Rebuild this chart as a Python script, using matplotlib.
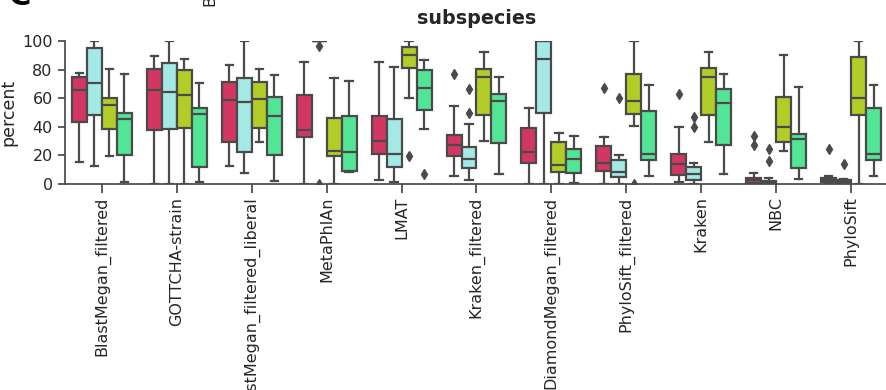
import numpy as np
import matplotlib
matplotlib.use("Agg")
import matplotlib.pyplot as plt

# categories on the x axis
cats = ["BlastMegan_filtered", "GOTTCHA-strain", "BlastMegan_filtered_liberal",
        "MetaPhlAn", "LMAT", "Kraken_filtered", "DiamondMegan_filtered",
        "PhyloSift_filtered", "Kraken", "NBC", "PhyloSift"]

# box stats, one list per hue (percent)
red_med = [65.7, 65.5, 59.0, 37.5, 29.9, 27.0, 22.1, 15.0, 14.0, 2.8, 2.6]
red_q1 = [43.1, 37.5, 29.2, 33.1, 21.2, 19.3, 14.4, 9.3, 6.5, 0.9, 1.4]
red_q3 = [74.8, 80.4, 71.1, 62.5, 47.3, 34.0, 39.2, 26.3, 20.7, 4.4, 4.4]
red_lo = [15.6, 0.0, 12.4, 0.0, 3.0, 5.3, 0.0, 0.0, 1.6, 0.2, 0.2]
red_hi = [77.4, 89.7, 83.2, 85.3, 85.5, 54.8, 52.9, 32.6, 39.6, 7.9, 5.8]
red_out = {5: [77.0], 7: [67.1], 8: [62.7], 9: [33.6, 27.0], 10: [24.5]}

cyan_med = [70.8, 64.1, 57.3, 100, 21.2, 17.8, 87.2, 8.4, 7.2, 0.9, 1.6]
cyan_q1 = [48.3, 38.2, 22.6, 100, 12.1, 11.5, 49.6, 4.9, 3.0, 0.2, 0.0]
cyan_q3 = [95.3, 84.6, 74.1, 100, 45.2, 25.6, 100, 16.5, 11.9, 2.1, 2.8]
cyan_lo = [12.8, 0.0, 7.7, 100, 1.2, 2.5, 0.0, 0.0, 0.2, 0.0, 0.0]
cyan_hi = [100, 100, 100, 100, 81.8, 41.7, 100, 20.5, 14.5, 4.0, 3.3]
cyan_out = {3: [96.7, 0.0], 5: [66.2, 49.9], 7: [59.9], 8: [47.1, 39.6],
            9: [24.2, 16.3], 10: [14.0]}

yel_med = [55.5, 62.0, 59.2, 23.3, 90.2, 75.1, 13.1, 57.8, 75.1, 39.9, 59.8]
yel_q1 = [38.7, 39.4, 39.0, 19.6, 81.1, 48.5, 8.2, 48.7, 48.5, 29.6, 48.5]
yel_q3 = [59.9, 79.5, 71.3, 46.2, 96.0, 80.2, 29.6, 76.9, 81.1, 61.1, 89.0]
yel_lo = [19.6, 0.0, 29.6, 0.0, 59.9, 29.8, 0.0, 40.6, 29.6, 23.1, 0.0]
yel_hi = [80.7, 87.2, 80.7, 74.4, 100, 92.3, 35.7, 100, 92.3, 90.0, 100]
yel_out = {4: [19.6], 7: [0.0]}

grn_med = [45.2, 49.0, 47.8, 22.4, 67.1, 58.0, 17.2, 21.2, 56.4, 31.2, 21.2]
grn_q1 = [20.3, 12.1, 20.1, 9.3, 51.7, 28.9, 7.9, 16.5, 27.3, 11.5, 16.5]
grn_q3 = [49.9, 53.4, 60.8, 47.3, 79.7, 63.2, 24.5, 50.8, 66.4, 35.2, 52.9]
grn_lo = [1.2, 1.6, 2.3, 8.6, 38.5, 7.2, 1.0, 5.6, 6.8, 3.7, 5.3]
grn_hi = [77.2, 70.9, 76.5, 72.3, 86.7, 74.6, 33.6, 69.5, 76.9, 67.6, 68.9]
grn_out = {4: [6.8]}

hues = [
    ("#d33662", red_med, red_q1, red_q3, red_lo, red_hi, red_out),
    ("#a4e9e6", cyan_med, cyan_q1, cyan_q3, cyan_lo, cyan_hi, cyan_out),
    ("#b2cd28", yel_med, yel_q1, yel_q3, yel_lo, yel_hi, yel_out),
    ("#52e596", grn_med, grn_q1, grn_q3, grn_lo, grn_hi, grn_out),
]

gray = "#4a4a4a"
txt = "#262626"

fig = plt.figure(figsize=(8.86, 3.9), dpi=100)
ax = fig.add_axes([64.5 / 886, 206 / 390, 824 / 886, 143 / 390])

offsets = [-0.3, -0.1, 0.1, 0.3]
for h, (col, med, q1, q3, lo, hi, out) in enumerate(hues):
    stats = []
    for i in range(len(cats)):
        stats.append(dict(med=med[i], q1=q1[i], q3=q3[i], whislo=lo[i],
                          whishi=hi[i], fliers=out.get(i, [])))
    pos = np.arange(len(cats)) + offsets[h]
    ax.bxp(stats, positions=pos, widths=0.2, patch_artist=True,
           boxprops=dict(facecolor=col, edgecolor=gray, linewidth=1.6),
           medianprops=dict(color=gray, linewidth=1.6),
           whiskerprops=dict(color=gray, linewidth=1.6),
           capprops=dict(color=gray, linewidth=1.6),
           flierprops=dict(marker="d", markerfacecolor=gray,
                           markeredgecolor=gray, markersize=5))

ax.set_xlim(-0.5, len(cats) - 0.5)
ax.set_ylim(0, 100)
ax.set_yticks([0, 20, 40, 60, 80, 100])
ax.set_xticks(np.arange(len(cats)))
ax.set_xticklabels(cats, rotation=90, fontsize=11.5, color=txt)
ax.tick_params(axis="y", labelsize=11.5, labelcolor=txt, length=5,
               width=1.25, color=gray)
ax.tick_params(axis="x", length=6.5, width=1.25, color=gray, pad=2.5)
for s in ["top", "right"]:
    ax.spines[s].set_visible(False)
for s in ["left", "bottom"]:
    ax.spines[s].set_color(gray)
    ax.spines[s].set_linewidth(1.25)
ax.set_ylabel("percent", fontsize=12.5, color=txt)
ax.yaxis.set_label_coords(-0.057, 0.5)
ax.set_title("subspecies", fontsize=13.8, fontweight="bold", color=txt, pad=12)

# bits of the neighbouring panels that fall inside the crop
fig.text(8 / 886, 1 - 5 / 390, "C", fontsize=22, fontweight="bold",
         va="baseline", ha="left", color="black")
fig.text(210 / 886, 1 - 6 / 390, "BlastMegan_filtered", rotation=90,
         ha="center", va="bottom", fontsize=11.5, color=txt)

fig.savefig("out.png", dpi=100)
